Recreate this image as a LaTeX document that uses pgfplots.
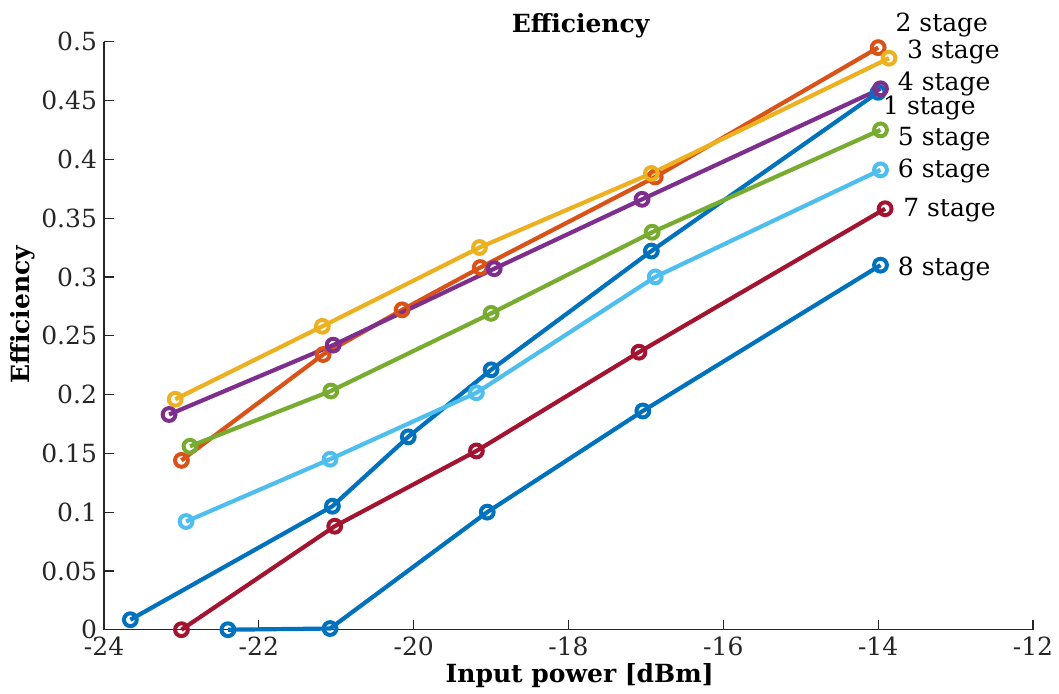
\documentclass[border=0pt]{standalone}
\usepackage{fontspec}
\setmainfont{DejaVu Serif}
\usepackage{pgfplots}
\pgfplotsset{compat=1.18}
\definecolor{mb}{HTML}{0072BD}
\definecolor{mo}{HTML}{D95319}
\definecolor{my}{HTML}{EDB120}
\definecolor{mp}{HTML}{7E2F8E}
\definecolor{mg}{HTML}{77AC30}
\definecolor{mc}{HTML}{4DBEEE}
\definecolor{mr}{HTML}{A2142F}
\definecolor{ax}{HTML}{262626}
\newcommand{\fs}{\fontsize{12.5}{15}\selectfont}
\begin{document}
\begin{tikzpicture}
\begin{axis}[
  scale only axis,
  width=464.5pt, height=294pt,
  xmin=-24, xmax=-12, ymin=0, ymax=0.5,
  xtick={-24,-22,...,-12},
  ytick={0,0.05,...,0.51},
  axis x line=bottom, axis y line=left,
  axis line style={ax, line width=0.6pt, -},
  tick style={ax, line width=0.6pt},
  tick align=inside, major tick length=5pt,
  tick label style={font=\fs, text=ax},
  /pgf/number format/assume math mode=true,
  /pgf/number format/fixed,
  label style={font=\fs\bfseries},
  xlabel={Input power [dBm]},
  ylabel={Efficiency},
  title={Efficiency},
  title style={font=\fs\bfseries, at={(0.513,1)}, anchor=base, yshift=-1.5pt},
  xlabel style={at={(axis description cs:0.512,0)}, anchor=base, yshift=-26.5pt},
  ylabel style={at={(axis description cs:-0.088,0.536)}, anchor=center},
  every axis plot/.append style={line width=2.1pt, mark=o, mark size=3.2pt,
    mark options={line width=2pt}},
  clip=false,
]
% 1 stage
\addplot[mb] coordinates {(-23.66,0.0085) (-21.05,0.105) (-20.07,0.164) (-19.0,0.221) (-16.93,0.322) (-14.0,0.457)};
% 2 stage
\addplot[mo] coordinates {(-23.0,0.144) (-21.17,0.234) (-20.15,0.272) (-19.14,0.308) (-16.88,0.385) (-14.0,0.495)};
% 3 stage
\addplot[my] coordinates {(-23.08,0.196) (-21.18,0.258) (-19.15,0.325) (-16.93,0.388) (-13.86,0.486)};
% 4 stage
\addplot[mp] coordinates {(-23.16,0.183) (-21.04,0.242) (-18.96,0.307) (-17.05,0.366) (-13.97,0.460)};
% 5 stage
\addplot[mg] coordinates {(-22.89,0.156) (-21.07,0.203) (-19.0,0.269) (-16.92,0.338) (-13.97,0.425)};
% 6 stage
\addplot[mc] coordinates {(-22.94,0.092) (-21.08,0.145) (-19.19,0.2015) (-16.88,0.300) (-13.97,0.391)};
% 7 stage
\addplot[mr] coordinates {(-23.0,0.0) (-21.02,0.088) (-19.19,0.152) (-17.09,0.236) (-13.91,0.358)};
% 8 stage
\addplot[mb] coordinates {(-22.40,0.0) (-21.08,0.001) (-19.05,0.100) (-17.04,0.186) (-13.97,0.310)};

% labels
\begin{scope}[every node/.style={font=\fs, anchor=west, inner sep=0pt}]
\node at (axis cs:-13.78,0.514) {2 stage};
\node at (axis cs:-13.63,0.491) {3 stage};
\node at (axis cs:-13.75,0.464) {4 stage};
\node at (axis cs:-13.94,0.444) {1 stage};
\node at (axis cs:-13.75,0.417) {5 stage};
\node at (axis cs:-13.75,0.390) {6 stage};
\node at (axis cs:-13.68,0.357) {7 stage};
\node at (axis cs:-13.75,0.307) {8 stage};
\end{scope}
\coordinate (bbll) at (rel axis cs:-0.112,-0.109);
\coordinate (bbur) at (rel axis cs:1.028,1.071);
\end{axis}
\pgfresetboundingbox
\path (bbll) rectangle (bbur);
\end{tikzpicture}
\end{document}
